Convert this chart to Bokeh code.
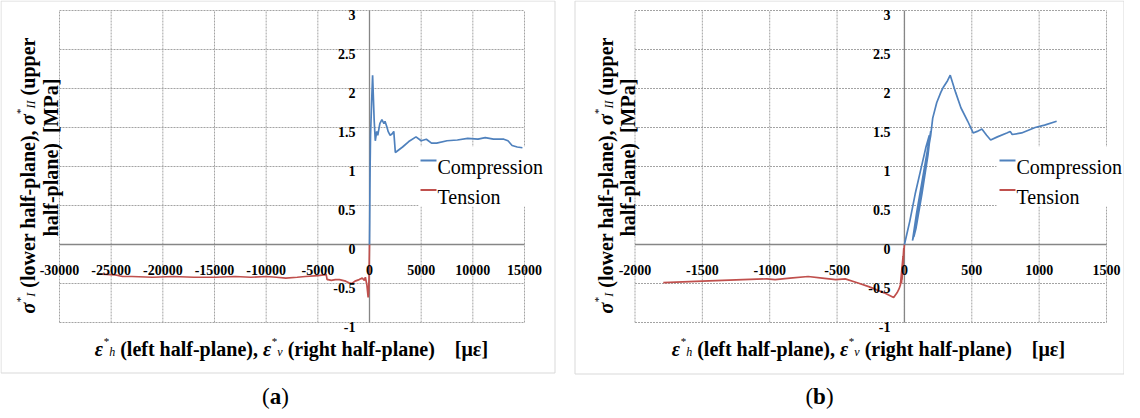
import math
from bokeh.plotting import figure
from bokeh.layouts import row
from bokeh.models import Range1d, ColumnDataSource
from bokeh.core.properties import value, field
from bokeh.embed import file_html
from bokeh.resources import INLINE

# ---------------- data ----------------
y_ticks = [-1, -0.5, 0, 0.5, 1, 1.5, 2, 2.5, 3]
y_tick_labels = ["-1", "-0.5", "0", "0.5", "1", "1.5", "2", "2.5", "3"]

x_ticks_a = [-30000, -25000, -20000, -15000, -10000, -5000, 0, 5000, 10000, 15000]
x_tick_labels_a = ["-30000", "-25000", "-20000", "-15000", "-10000", "-5000", "0", "5000", "10000", "15000"]
x_ticks_b = [-2000, -1500, -1000, -500, 0, 500, 1000, 1500]
x_tick_labels_b = ["-2000", "-1500", "-1000", "-500", "0", "500", "1000", "1500"]

series_names = ["Compression", "Tension"]
series_colors = ["#4f81bd", "#c0504d"]

# (a) compression: strain [micro-strain], stress [MPa]
comp_a_strain = [0, 20, 40, 60, 80, 100, 200, 300, 450, 560, 700, 800, 1000, 1200, 1400, 1500,
                 1700, 1800, 2000, 2200, 2350, 2500, 3200, 3800, 4500, 5000, 5500, 6000, 6500,
                 7500, 8500, 9500, 10500, 11200, 12000, 13000, 13400, 13800, 14300, 14800]
comp_a_stress = [0, 0.3, 0.7, 1.0, 1.2, 1.4, 1.8, 2.17, 1.6, 1.33, 1.45, 1.40, 1.55, 1.60, 1.55, 1.58,
                 1.50, 1.45, 1.40, 1.42, 1.45, 1.18, 1.25, 1.32, 1.38, 1.33, 1.35, 1.30, 1.30,
                 1.33, 1.34, 1.36, 1.35, 1.37, 1.35, 1.35, 1.33, 1.27, 1.25, 1.24]
# (a) tension
ten_a_strain = [0, -20, -50, -90, -130, -250, -400, -500, -700, -1000, -1400, -1700, -2000, -2300,
                -2600, -2900, -3300, -3700, -4000, -4100, -4200, -4400, -5000, -6200, -7000, -8100,
                -9000, -10000, -11500, -13000, -15000, -17000, -19000, -21000, -23000, -23900,
                -24600, -25900]
ten_a_stress = [0, -0.2, -0.45, -0.62, -0.68, -0.52, -0.42, -0.46, -0.43, -0.45, -0.47, -0.50, -0.49,
                -0.47, -0.46, -0.45, -0.45, -0.46, -0.45, -0.45, -0.38, -0.39, -0.40, -0.41, -0.42,
                -0.43, -0.42, -0.41, -0.42, -0.41, -0.42, -0.42, -0.41, -0.42, -0.41, -0.41, -0.39,
                -0.38]

# (b) compression (loading / unloading loops, then softening)
comp_b_strain = [0, 40, 80, 120, 160, 185, 165, 120, 75, 60, 90, 130, 170, 195, 175, 130, 85, 70,
                 105, 145, 180, 170, 125, 90, 80, 120, 160, 195, 210, 240, 270, 290, 320, 340, 380,
                 420, 470, 510, 540, 575, 610, 640, 690, 760, 785, 800, 870, 970, 1040, 1130]
comp_b_stress = [0, 0.3, 0.65, 0.95, 1.25, 1.4, 1.1, 0.6, 0.15, 0.05, 0.4, 0.8, 1.2, 1.45, 1.15, 0.65,
                 0.2, 0.1, 0.5, 0.95, 1.3, 1.15, 0.6, 0.25, 0.18, 0.65, 1.05, 1.4, 1.62, 1.82, 1.95,
                 2.02, 2.1, 2.17, 1.95, 1.75, 1.58, 1.43, 1.45, 1.48, 1.40, 1.34, 1.38, 1.43, 1.45,
                 1.41, 1.43, 1.50, 1.53, 1.58]
# (b) tension
ten_b_strain = [0, -8, -18, -5, -22, -10, -30, -40, -55, -80, -150, -265, -350, -440, -510, -610,
                -715, -850, -960, -1020, -1200, -1500, -1790]
ten_b_stress = [0, -0.2, -0.45, -0.05, -0.5, -0.15, -0.52, -0.57, -0.62, -0.68, -0.62, -0.54, -0.49,
                -0.44, -0.45, -0.43, -0.41, -0.43, -0.45, -0.44, -0.45, -0.47, -0.49]

# ---------------- styling / layout constants ----------------
FONT = "Liberation Serif"
FIG_TOP = 8          # page y of figures' top
FIG_H = 410
AREA_TOP, AREA_BOT = 18.0, 330.0
Y_MAX, Y_MIN = 3.0, -1.0
GRID_COLOR = "#a3a3a3"
AXIS_COLOR = "#868686"
BOX_COLOR = "#d9d9d9"
NB = "\u00a0"

TB = {' ': 250, NB: 250, '(': 333, ')': 333, ',': 250, '-': 333, '.': 250, '[': 333, ']': 333,
      '*': 500, 'a': 500, 'b': 556, 'c': 444, 'd': 556, 'e': 444, 'f': 333, 'g': 500, 'h': 556,
      'i': 278, 'l': 278, 'm': 833, 'n': 556, 'o': 500, 'p': 556, 'r': 444, 's': 389, 't': 333,
      'u': 556, 'v': 500, 'w': 722, 'I': 389, 'M': 944, 'P': 611, '\u03bc': 556, '\u03b5': 444,
      '\u03c3': 556}
TI = {'h': 500, 'v': 444, 'I': 333, ' ': 250}
TR = {'*': 500, '(': 333, ')': 333, ' ': 250, 'a': 444}


def tw(s, size, style):
    if "bold" in style:
        tab = TB
    elif "italic" in style:
        tab = TI
    else:
        tab = TR
    return sum(tab.get(c, 500) for c in s) / 1000.0 * size


def rich(pieces, cx, cy, vertical=False):
    """pieces: (text, size_px, style, down_px). Returns page coords of each piece."""
    widths = [tw(t, s, st) for t, s, st, d in pieces]
    total = sum(widths)
    xs, ys, txt, sz, sty = [], [], [], [], []
    cur = (cx - total / 2) if not vertical else (cy + total / 2)
    for (t, s, st, d), w in zip(pieces, widths):
        if not vertical:
            xs.append(cur); ys.append(cy + d)
            cur += w
        else:
            xs.append(cx + d); ys.append(cur)
            cur -= w
        txt.append(t); sz.append("%.1fpx" % s); sty.append(st)
    return xs, ys, txt, sz, sty


def sub_pieces(sym, sub, size):
    return [(sym, size, "bold italic", 0), ("*", size * 0.55, "normal", -size * 0.38),
            (sub, size * 0.6, "italic", size * 0.18)]


TS = 20  # title size
xtitle = (sub_pieces("\u03b5", "h", TS) + [(NB + "(left half-plane)," + NB, TS, "bold", 0)]
          + sub_pieces("\u03b5", "v", TS)
          + [(NB + "(right half-plane)" + NB * 4 + "[\u03bc\u03b5]", TS, "bold", 0)])
ytitle1 = (sub_pieces("\u03c3", "I", TS) + [(NB + "(lower half-plane)," + NB, TS, "bold", 0)]
           + sub_pieces("\u03c3", "II", TS) + [(NB + "(upper", TS, "bold", 0)])
ytitle2 = [("half-plane)" + NB * 2 + "[MPa]", TS, "bold", 0)]


def panel(cfg):
    fx0, fw = cfg["fig_x"], cfg["fig_w"]
    ax0, ax1 = cfg["area_x"]
    xmin, xmax = cfg["xlim"]
    kx = (ax1 - ax0) / (xmax - xmin)
    ky = (AREA_BOT - AREA_TOP) / (Y_MAX - Y_MIN)

    def X(px):
        return xmin + (px - ax0) / kx

    def Y(py):
        return Y_MAX - (py - AREA_TOP) / ky

    p = figure(width=fw, height=FIG_H,
               x_range=Range1d(X(fx0), X(fx0 + fw)),
               y_range=Range1d(Y(FIG_TOP + FIG_H), Y(FIG_TOP)),
               x_axis_location=None, y_axis_location=None,
               toolbar_location=None, tools="", output_backend="svg",
               min_border=0, outline_line_color=None,
               background_fill_color="white", border_fill_color="white")
    p.grid.visible = False

    # chart-area border
    bx0, bx1, by0, by1 = cfg["box"]
    p.quad(left=[X(bx0)], right=[X(bx1)], top=[Y(by0)], bottom=[Y(by1)],
           fill_color=None, line_color=BOX_COLOR, line_width=1)

    # dotted gridlines (incl. plot-area edges)
    xt = cfg["xticks"]
    p.segment(x0=xt, y0=[Y_MIN] * len(xt), x1=xt, y1=[Y_MAX] * len(xt),
              line_color=GRID_COLOR, line_width=1, line_dash="2 1")
    p.segment(x0=[xmin] * len(y_ticks), y0=y_ticks, x1=[xmax] * len(y_ticks), y1=y_ticks,
              line_color=GRID_COLOR, line_width=1, line_dash="2 1")

    # legend background (hides gridlines)
    lx0, lx1, ly0, ly1 = cfg["legend_box"]
    p.quad(left=[X(lx0)], right=[X(lx1)], top=[Y(ly0)], bottom=[Y(ly1)],
           fill_color="white", line_color=None)

    # axes through the origin
    p.segment(x0=[xmin, 0], y0=[0, Y_MIN], x1=[xmax, 0], y1=[0, Y_MAX],
              line_color=AXIS_COLOR, line_width=1.3)

    # data
    p.line(cfg["ten_x"], cfg["ten_y"], line_color=series_colors[1], line_width=1.7)
    p.line(cfg["comp_x"], cfg["comp_y"], line_color=series_colors[0], line_width=1.7)

    # legend items
    lgx = cfg["legend_x"]
    for i, (nm, col) in enumerate(zip(series_names, series_colors)):
        yy = 168 + 29.5 * i
        p.segment(x0=[X(lgx)], y0=[Y(yy)], x1=[X(lgx + 16)], y1=[Y(yy)],
                  line_color=col, line_width=2)
        p.text(x=[X(lgx + 17)], y=[Y(yy + 6.8)], text=[nm], text_font=value(FONT),
               text_font_size="20px", text_align="left", text_baseline="alphabetic",
               text_color="black")

    # tick labels next to the axes
    p.text(x=[-14 / kx] * len(y_ticks), y=[v - 4.7 / ky for v in y_ticks], text=y_tick_labels,
           text_font=value(FONT), text_font_style="bold", text_font_size="14px",
           text_align="right", text_baseline="alphabetic", text_color="black")
    p.text(x=xt, y=[-(25.5) / ky] * len(xt), text=cfg["xlabels"],
           text_font=value(FONT), text_font_style="bold", text_font_size="14px",
           text_align="center", text_baseline="alphabetic", text_color="black")

    # rich-text titles
    def draw_rich(res, angle=0.0):
        xs, ys, txt, sz, sty = res
        src = ColumnDataSource(dict(x=[X(v) for v in xs], y=[Y(v) for v in ys],
                                    t=txt, sz=sz, st=sty))
        p.text(x="x", y="y", text="t", source=src, text_font=value(FONT),
               text_font_size=field("sz"), text_font_style=field("st"),
               text_align="left", text_baseline="alphabetic", angle=angle,
               text_color="black")

    draw_rich(rich(xtitle, cfg["xtitle_c"], 356))
    draw_rich(rich(ytitle1, cfg["yt1_x"], 183, vertical=True), angle=math.pi / 2)
    draw_rich(rich(ytitle2, cfg["yt2_x"], 165, vertical=True), angle=math.pi / 2)

    # caption "(a)" / "(b)"
    cap = [("(", 23, "normal", 0), (cfg["caption"], 23, "bold", 0), (")", 23, "normal", 0)]
    draw_rich(rich(cap, cfg["cap_c"], 404))
    return p


W1 = 565
W2 = 1132 - (8 + W1)
DX = 6  # right panel shifted slightly left so that everything fits the window

cfg_a = dict(fig_x=8, fig_w=W1, area_x=(67.0, 532.0), xlim=(-30000, 15000),
             box=(8.5, 562.5, 8.5, 380.5), xticks=x_ticks_a, xlabels=x_tick_labels_a,
             comp_x=comp_a_strain, comp_y=comp_a_stress, ten_x=ten_a_strain, ten_y=ten_a_stress,
             legend_box=(426, 560, 154, 214), legend_x=428, xtitle_c=299, yt1_x=35, yt2_x=58,
             caption="a", cap_c=283)
cfg_b = dict(fig_x=8 + W1, fig_w=W2, area_x=(648.5 - DX, 1120.0 - DX), xlim=(-2000, 1500),
             box=(588.5 - DX, 1131.5, 8.5, 381.5), xticks=x_ticks_b, xlabels=x_tick_labels_b,
             comp_x=comp_b_strain, comp_y=comp_b_stress, ten_x=ten_b_strain, ten_y=ten_b_stress,
             legend_box=(1004, 1130, 154, 214), legend_x=1007, xtitle_c=882 - DX,
             yt1_x=619 - DX, yt2_x=641 - DX, caption="b", cap_c=833 - DX)

pa = panel(cfg_a)
pb = panel(cfg_b)
layout = row(pa, pb, spacing=0)

open("out.html", "w").write(file_html(layout, INLINE))
